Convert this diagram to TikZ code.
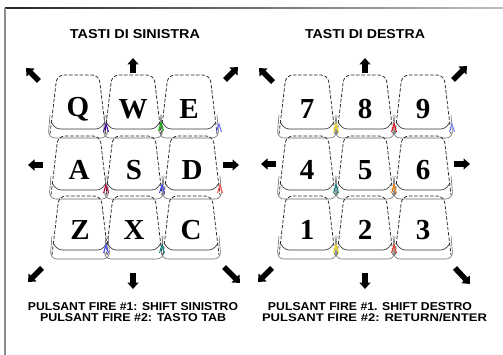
\documentclass[tikz,border=0pt]{standalone}
\usepackage{fontspec}
\usepackage{graphicx}
\setmainfont{Liberation Serif}
\newfontfamily\capfont{Liberation Sans}
\usetikzlibrary{arrows.meta}

% caption text squeezed into a given width and cap height
\newcommand{\fitcaps}[3]{\resizebox{#1}{#2}{\capfont\bfseries #3}}

\tikzset{
  keyface/.style={draw=black!85, line width=0.75pt, dash pattern=on 3.5pt off 1.8pt},
  keyskirt/.style={draw=black!60, line width=0.55pt},
  keyedge/.style={draw=black!80, line width=0.65pt},
  keylabel/.style={inner sep=0pt, font=\fontsize{29}{30}\selectfont\bfseries},
  dirarrow/.style={line width=5.5pt, -{Triangle[width=11pt,length=6.5pt]}},
  caption/.style={inner sep=0pt},
  tick/.style={line width=1pt},
  pics/keycap/.style={code={
    \draw[keyskirt, rounded corners=7pt] (-28,6) -- (-30,29) -- (30,29) -- (28,6);
    \draw[keyface, rounded corners=7pt] (-28,25) -- (-21,-34) -- (21,-34) -- (28,25);
    \draw[keyedge, rounded corners=4pt] (-27,13) -- (-22,20) -- (22,20) -- (27,13);
    \node[keylabel] (-lbl) at (0,0) {#1};
  }}
}

\begin{document}
\begin{tikzpicture}[x=1pt,y=-1pt]
  \useasboundingbox (0,0) rectangle (503,355);
  \fill[white] (0,0) rectangle (503,355);

  % frame
  \shade[left color=black!85, right color=black!25] (5,7.4) rectangle (503,8.8);
  \fill[black!45] (4.4,8) rectangle (5.6,355);

  % headings
  \node[caption] (hl) at (135,34.5) {\fitcaps{130pt}{9pt}{TASTI DI SINISTRA}};
  \node[caption] (hr) at (365,34.5) {\fitcaps{120pt}{9pt}{TASTI DI DESTRA}};

  % left key block
  \pic (kq) at (78,109)  {keycap=Q};
  \pic (kw) at (133,109) {keycap=W};
  \pic (ke) at (189,109) {keycap=E};
  \pic (ka) at (79,170)  {keycap=A};
  \pic (ks) at (134,170) {keycap=S};
  \pic (kd) at (192,170) {keycap=D};
  \pic (kz) at (80,230)  {keycap=Z};
  \pic (kx) at (134,230) {keycap=X};
  \pic (kc) at (191,230) {keycap=C};

  % right key block
  \pic (k7) at (307,109) {keycap=7};
  \pic (k8) at (365,109) {keycap=8};
  \pic (k9) at (423,109) {keycap=9};
  \pic (k4) at (307,170) {keycap=4};
  \pic (k5) at (365,170) {keycap=5};
  \pic (k6) at (423,170) {keycap=6};
  \pic (k1) at (307,230) {keycap=1};
  \pic (k2) at (365,230) {keycap=2};
  \pic (k3) at (423,230) {keycap=3};

  % coloured register marks where the key edges meet
  \foreach \x/\y/\c in {106/127/blue!70!red, 161/126/green!70!black, 219/127/blue!60,
                        106/188/purple, 162/188/blue!80, 220/188/red!70,
                        106/248/blue!70, 162/248/teal,
                        336/127/yellow!80!orange, 394/127/red!70!purple, 452/127/blue!50,
                        336/188/teal, 394/188/orange,
                        336/248/yellow!80!orange, 394/248/red!60!brown}
    \draw[tick, \c] (\x-2.5,\y+5) -- (\x,\y-3) -- (\x+2.5,\y+5);

  % direction arrows, left block
  \draw[dirarrow] (39,81)  -- (26,68);
  \draw[dirarrow] (133,73) -- (133,58);
  \draw[dirarrow] (225,80) -- (238,67);
  \draw[dirarrow] (43,165) -- (28,165);
  \draw[dirarrow] (223,165) -- (239,165);
  \draw[dirarrow] (42,268) -- (28,282);
  \draw[dirarrow] (133,273) -- (133,289);
  \draw[dirarrow] (224,267) -- (240,283);

  % direction arrows, right block
  \draw[dirarrow] (273,82) -- (259,68);
  \draw[dirarrow] (365,73) -- (365,58);
  \draw[dirarrow] (453,80) -- (467,66);
  \draw[dirarrow] (276,164) -- (261,164);
  \draw[dirarrow] (454,164) -- (470,164);
  \draw[dirarrow] (272,268) -- (258,282);
  \draw[dirarrow] (365,273) -- (365,289);
  \draw[dirarrow] (455,268) -- (470,284);

  % fire button captions
  \node[caption] (fl1) at (133,307) {\fitcaps{210pt}{8pt}{PULSANT FIRE \#1: SHIFT SINISTRO}};
  \node[caption] (fl2) at (133,318) {\fitcaps{186pt}{8pt}{PULSANT FIRE \#2: TASTO TAB}};
  \node[caption] (fr1) at (370,307) {\fitcaps{204pt}{8pt}{PULSANT FIRE \#1. SHIFT DESTRO}};
  \node[caption] (fr2) at (374.5,318) {\fitcaps{225pt}{8pt}{PULSANT FIRE \#2: RETURN/ENTER}};
\end{tikzpicture}
\end{document}
